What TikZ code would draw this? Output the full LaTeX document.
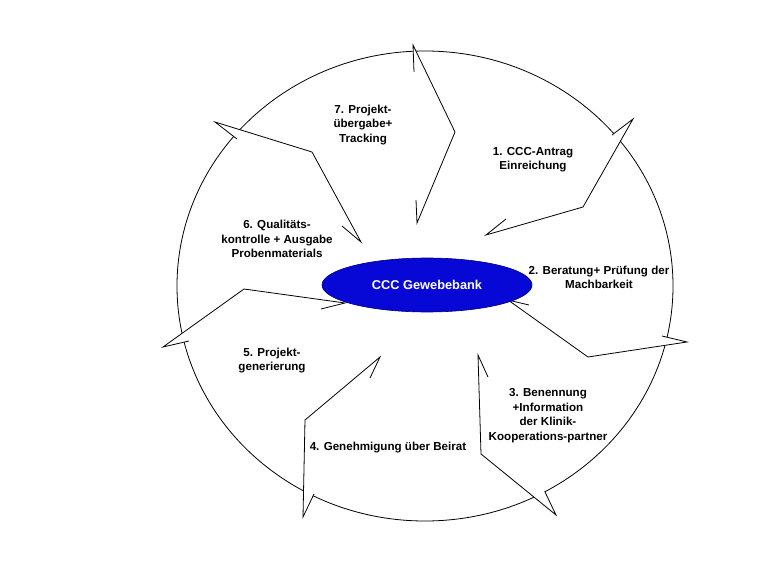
\documentclass[tikz,border=0pt]{standalone}
\usepackage{fontspec}
\setmainfont{Liberation Sans}
\usetikzlibrary{shapes.geometric,calc}
\definecolor{hubblue}{RGB}{8,8,214}
\definecolor{hubedge}{RGB}{0,0,120}
\begin{document}
\begin{tikzpicture}[x=1pt,y=-1pt,
  ring/.style={draw=black, line width=0.8pt, ellipse, minimum width=496pt, minimum height=470pt, inner sep=0pt},
  hub/.style={ellipse, fill=hubblue, draw=hubedge, line width=0.6pt, minimum width=210pt, minimum height=54pt, inner sep=0pt, text=white, font=\bfseries\fontsize{12.8}{15}\selectfont},
  arrowline/.style={draw=black, line width=0.8pt, line join=miter},
  wedge/.style={fill=white},
  lbl/.style={align=center, inner sep=0pt, font=\bfseries\fontsize{11.6}{14.5}\selectfont}]
\useasboundingbox (0,0) rectangle (781,585);
\fill[white] (0,0) rectangle (781,585);
\node[ring] (ring) at (425,286) {};
% arrow coordinates: t tip, s short end, b bend, e end, h barb
\coordinate (t7) at (413,45);  \coordinate (s7) at (414,72);  \coordinate (b7) at (455,132); \coordinate (e7) at (417,223); \coordinate (h7) at (416,200);
\coordinate (t6) at (215,122); \coordinate (s6) at (237,139); \coordinate (b6) at (312,152); \coordinate (e6) at (361,242); \coordinate (h6) at (342,226);
\coordinate (t1) at (633,119); \coordinate (s1) at (612,135); \coordinate (b1) at (583,207); \coordinate (e1) at (486,235); \coordinate (h1) at (506,219);
\coordinate (t2) at (687,342); \coordinate (s2) at (662,336); \coordinate (b2) at (588,357); \coordinate (e2) at (508,300); \coordinate (h2) at (529,305);
\coordinate (t3) at (556,515); \coordinate (s3) at (545,492); \coordinate (b3) at (481,454); \coordinate (e3) at (478,355); \coordinate (h3) at (488,377);
\coordinate (t4) at (303,517); \coordinate (s4) at (314,494); \coordinate (b4) at (305,420); \coordinate (e4) at (380,357); \coordinate (h4) at (370,378);
\coordinate (t5) at (163,347); \coordinate (s5) at (189,341); \coordinate (b5) at (244,289); \coordinate (e5) at (345,303); \coordinate (h5) at (321,309);
\foreach \i in {1,...,7} {
  \fill[wedge] (t\i) -- (s\i) -- ($(t\i)!0.45!(b\i)$) -- cycle;
}
\foreach \i in {1,...,7} {
  \draw[arrowline] (s\i) -- (t\i) -- (b\i) -- (e\i) -- (h\i);
}
\node[hub] (hub) at (427,285) {CCC Gewebebank};
\node[lbl] (l7) at (363,125) {7. Projekt-\\übergabe+\\Tracking};
\node[lbl] (l6) at (277,239) {6. Qualitäts-\\kontrolle + Ausgabe\\Probenmaterials};
\node[lbl] (l1) at (533,159.5) {1. CCC-Antrag\\Einreichung};
\node[lbl] (l2) at (599,277.5) {2. Beratung+ Prüfung der\\Machbarkeit};
\node[lbl] (l3) at (548,415.5) {3. Benennung\\+Information\\der Klinik-\\Kooperations-partner};
\node[lbl] (l4) at (388,448) {4. Genehmigung über Beirat};
\node[lbl] (l5) at (272,360.5) {5. Projekt-\\generierung};
\end{tikzpicture}
\end{document}
